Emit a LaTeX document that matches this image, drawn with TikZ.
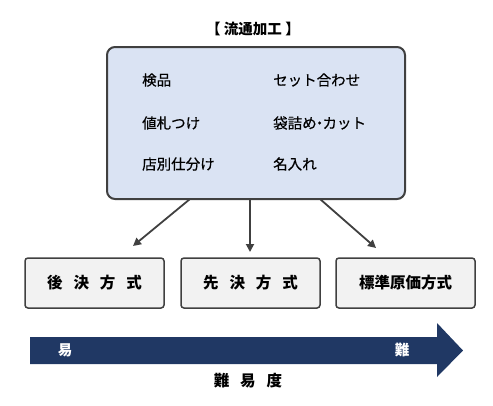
\documentclass[tikz,border=0pt]{standalone}
\usepackage{fontspec}
\setmainfont{Noto Sans CJK JP}
\newfontfamily\itemfont[FakeBold=0.5]{Noto Sans CJK JP}
\usetikzlibrary{arrows.meta}
\definecolor{edge}{HTML}{404040}
\definecolor{mainfill}{HTML}{DAE3F3}
\definecolor{boxfill}{HTML}{F2F2F2}
\definecolor{navy}{HTML}{203864}
\tikzset{
  item/.style={anchor=west, font=\itemfont\fontsize{14.5}{14.5}\selectfont, inner sep=0pt},
  method/.style={draw=edge, fill=boxfill, line width=1.5pt, rounded corners=3pt,
    minimum width=139pt, minimum height=50pt, font=\bfseries\fontsize{15.5}{15.5}\selectfont},
  conn/.style={draw=edge, line width=1.8pt, -{Triangle[length=8pt,width=8pt]}},
  barlabel/.style={text=white, font=\bfseries\fontsize{14.5}{14.5}\selectfont}
}
\begin{document}
\begin{tikzpicture}[x=1pt,y=-1pt]
\useasboundingbox (0,0) rectangle (493,405);
\node[font=\bfseries\fontsize{14.5}{14.5}\selectfont] (title) at (253,29) {【 流通加工 】};
\draw[draw=edge, fill=mainfill, line width=2pt, rounded corners=8pt] (107,47) rectangle (405,199);
\coordinate (s1) at (190,199);
\coordinate (s2) at (250,199);
\coordinate (s3) at (320,199);
\node[item] (a1) at (142,80) {検品};
\node[item] (a2) at (142,123) {値札つけ};
\node[item] (a3) at (142,164) {店別仕分け};
\node[item] (b1) at (273,80) {セット合わせ};
\node[item] (b2) at (273,123) {袋詰め\kern-0.3em・\kern-0.3em カット};
\node[item] (b3) at (273,164) {名入れ};
\node[method] (m1) at (94.5,283) {後\hspace{0.7em}決\hspace{0.7em}方\hspace{0.7em}式};
\node[method] (m2) at (250.5,283) {先\hspace{0.7em}決\hspace{0.7em}方\hspace{0.7em}式};
\node[method] (m3) at (405.5,283) {標準原価方式};
\coordinate (t1) at (133,246);
\coordinate (t2) at (250,252);
\coordinate (t3) at (376,248);
\draw[conn] (s1) -- (t1);
\draw[conn] (s2) -- (t2);
\draw[conn] (s3) -- (t3);
\fill[navy] (30,337) -- (437,337) -- (437,323) -- (463,350.5) -- (437,377) -- (437,364) -- (30,364) -- cycle;
\node[barlabel] (easy) at (65,350.5) {易};
\node[barlabel] (hard) at (402,350.5) {難};
\node[font=\bfseries\fontsize{15.5}{15.5}\selectfont] (deg) at (248,381) {難\hspace{0.7em}易\hspace{0.7em}度};
\end{tikzpicture}
\end{document}
